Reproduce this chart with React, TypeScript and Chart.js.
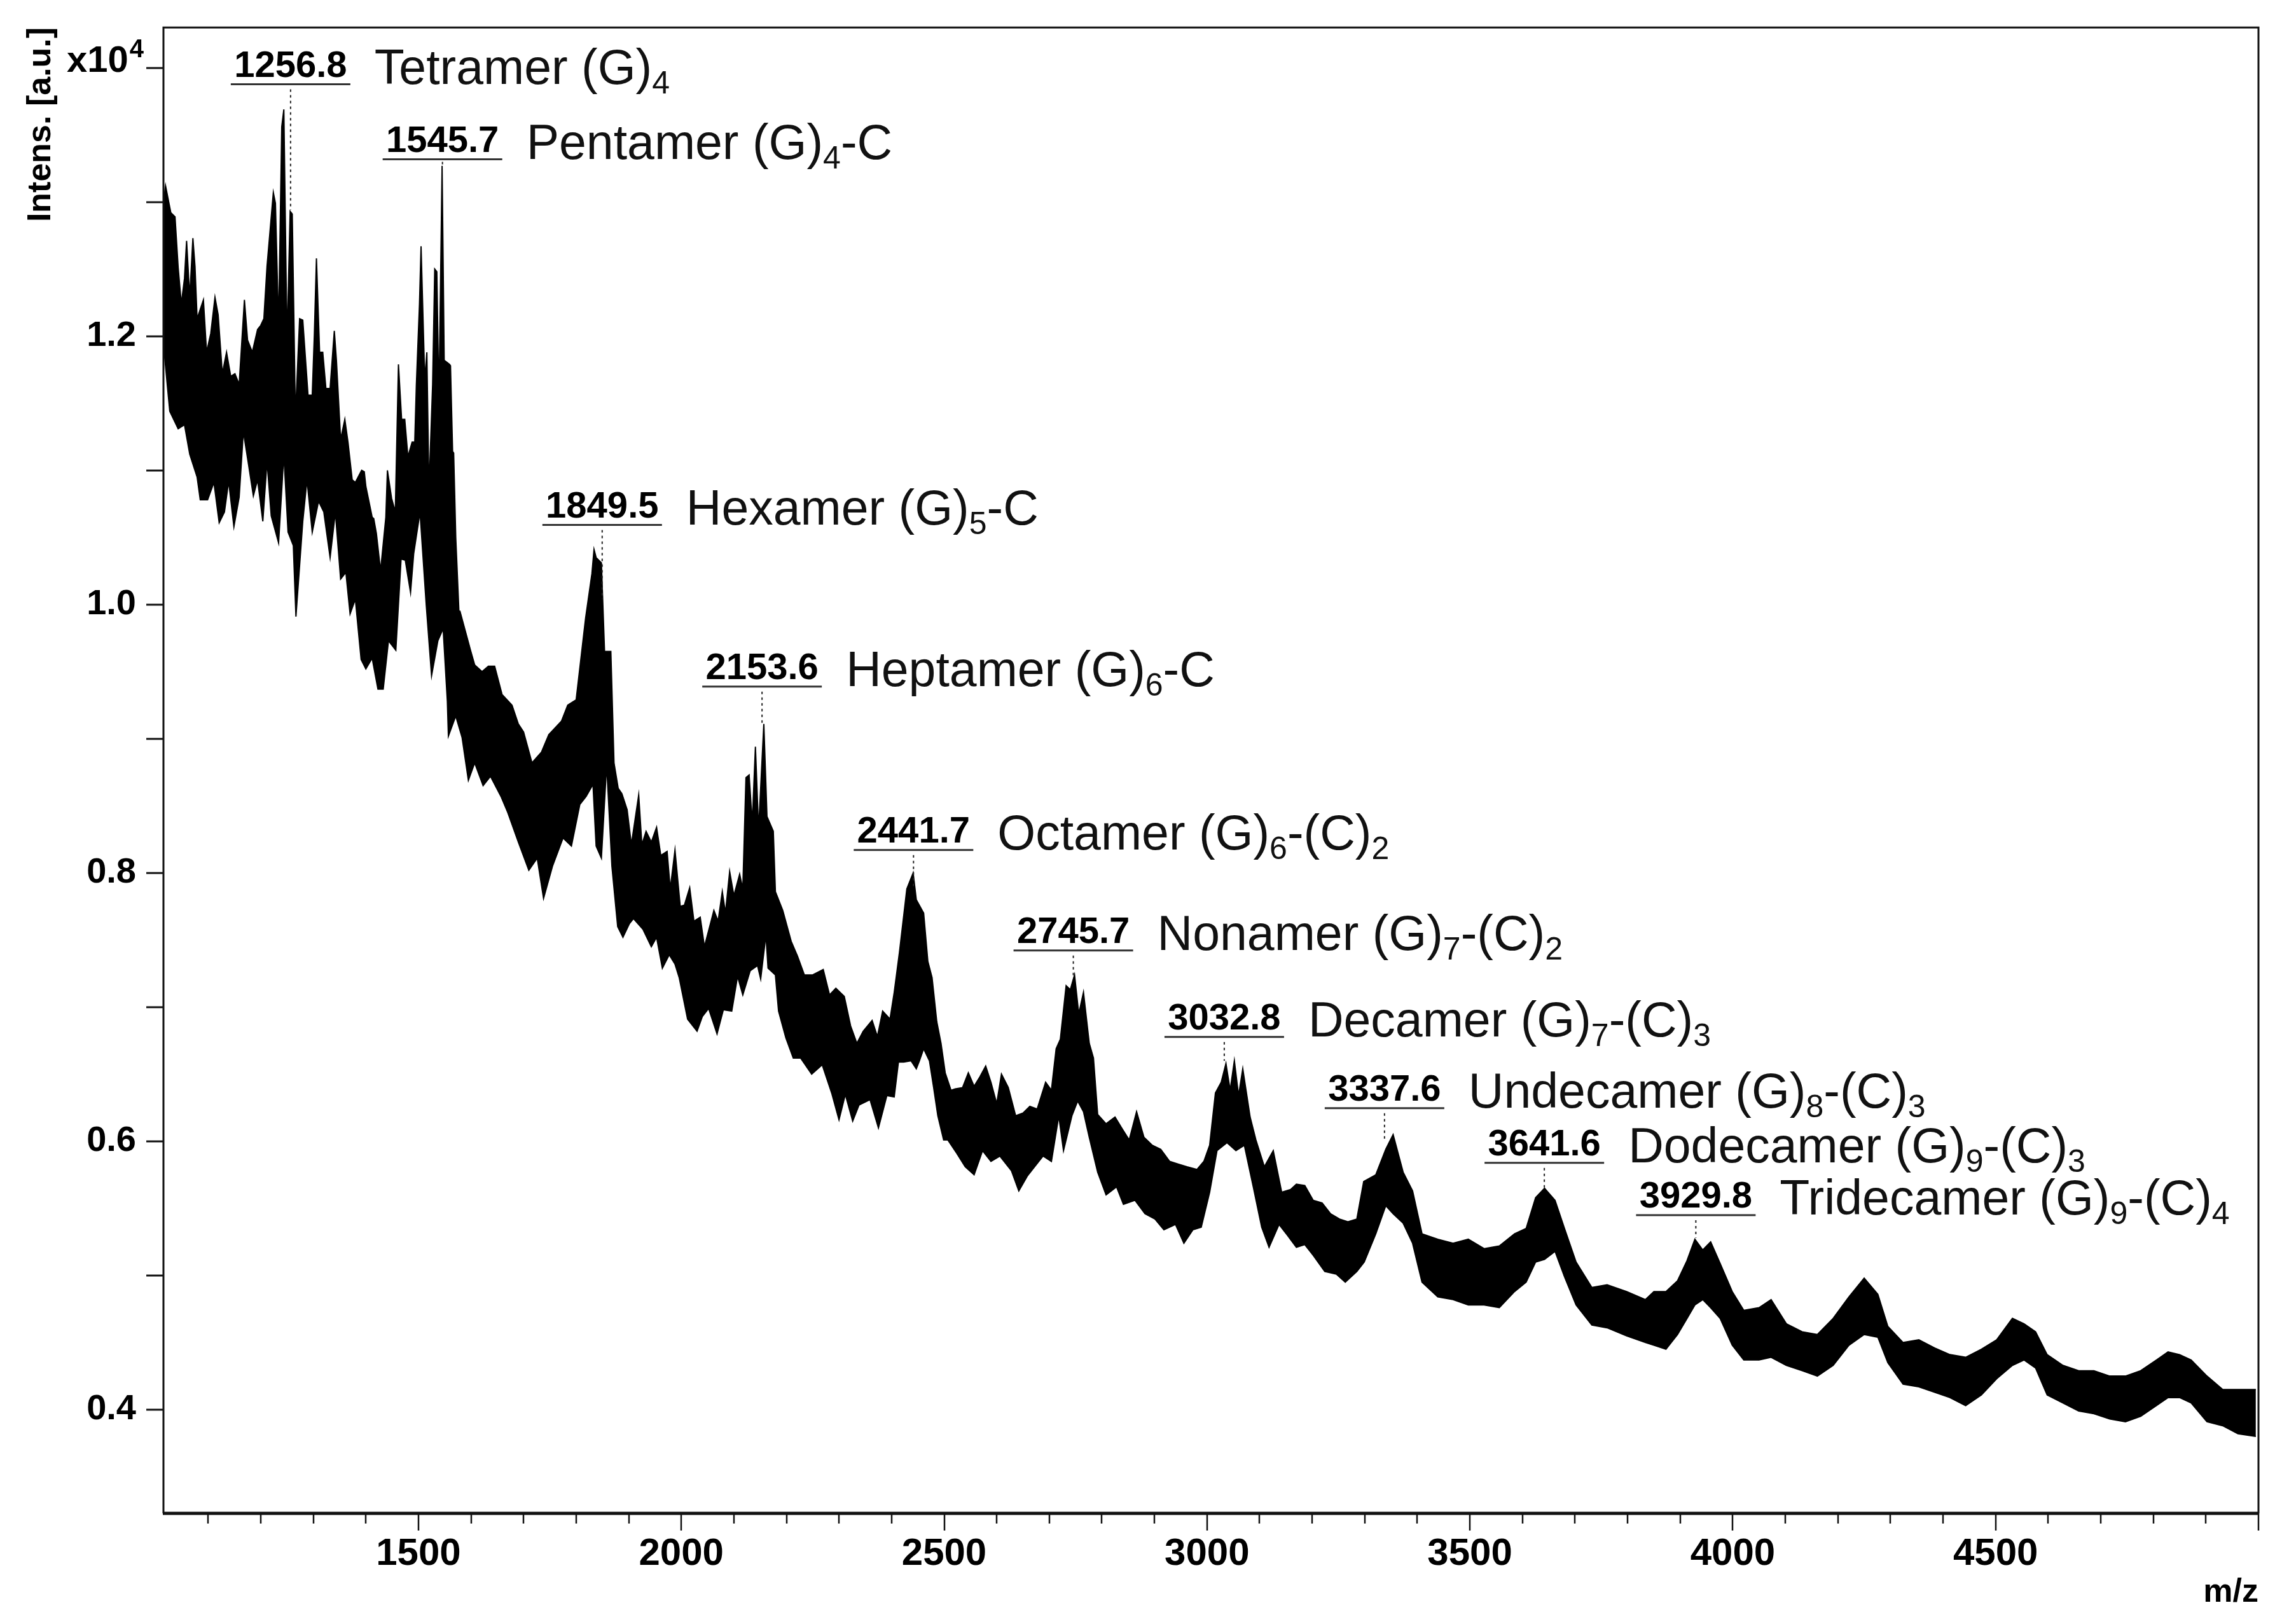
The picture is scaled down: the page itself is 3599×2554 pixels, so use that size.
import { useEffect, useRef } from "react"
import { Chart, registerables } from "chart.js"

Chart.register(...registerables)

// upper edge of the noisy trace: [m/z, intensity x10^4 a.u.]
const upperEdge: [number, number][] = [
  [1015, 1.3], [1019, 1.312], [1029, 1.292], [1037, 1.289], [1043, 1.251], [1049, 1.224], [1055, 1.243], [1059, 1.271],
  [1065, 1.229], [1071, 1.273], [1075, 1.252], [1079, 1.213], [1091, 1.227], [1097, 1.188], [1105, 1.202], [1113, 1.229],
  [1119, 1.216], [1127, 1.172], [1135, 1.188], [1143, 1.17], [1151, 1.172], [1159, 1.164], [1169, 1.227], [1175, 1.197],
  [1184, 1.188], [1194, 1.205], [1200, 1.208], [1206, 1.213], [1212, 1.252], [1224, 1.307], [1228, 1.299], [1234, 1.206],
  [1240, 1.356], [1244, 1.369], [1250, 1.194], [1256, 1.293], [1260, 1.291], [1266, 1.14], [1274, 1.213], [1280, 1.212],
  [1290, 1.156], [1298, 1.156], [1302, 1.201], [1306, 1.258], [1312, 1.188], [1318, 1.188], [1324, 1.161], [1332, 1.161],
  [1340, 1.204], [1344, 1.182], [1352, 1.123], [1360, 1.138], [1366, 1.121], [1374, 1.093], [1380, 1.091], [1392, 1.1],
  [1397, 1.099], [1400, 1.088], [1412, 1.065], [1415, 1.064], [1420, 1.053], [1428, 1.025], [1438, 1.065], [1441, 1.1],
  [1449, 1.079], [1456, 1.069], [1462, 1.179], [1468, 1.138], [1474, 1.138], [1480, 1.11], [1488, 1.121], [1493, 1.121],
  [1496, 1.163], [1502, 1.224], [1505, 1.267], [1512, 1.167], [1516, 1.188], [1520, 1.085], [1527, 1.164], [1531, 1.25],
  [1535, 1.248], [1539, 1.15], [1545, 1.327], [1549, 1.182], [1559, 1.179], [1561, 1.178], [1565, 1.114], [1567, 1.113],
  [1571, 1.05], [1577, 0.995], [1579, 0.995], [1599, 0.966], [1607, 0.955], [1621, 0.95], [1633, 0.954], [1645, 0.954],
  [1659, 0.933], [1678, 0.925], [1690, 0.911], [1700, 0.905], [1716, 0.882], [1734, 0.89], [1748, 0.903], [1772, 0.913],
  [1784, 0.925], [1800, 0.929], [1818, 0.99], [1830, 1.023], [1834, 1.041], [1838, 1.035], [1848, 1.031], [1854, 0.965],
  [1866, 0.965], [1872, 0.882], [1880, 0.863], [1887, 0.859], [1897, 0.847], [1905, 0.821], [1919, 0.858], [1925, 0.821],
  [1933, 0.831], [1943, 0.823], [1953, 0.834], [1961, 0.813], [1973, 0.816], [1979, 0.788], [1988, 0.817], [1998, 0.775],
  [2006, 0.776], [2016, 0.789], [2024, 0.764], [2036, 0.767], [2044, 0.745], [2054, 0.76], [2062, 0.772], [2070, 0.764],
  [2078, 0.786], [2084, 0.77], [2092, 0.801], [2100, 0.783], [2111, 0.799], [2117, 0.788], [2123, 0.871], [2129, 0.873],
  [2135, 0.837], [2141, 0.894], [2147, 0.832], [2157, 0.911], [2163, 0.842], [2175, 0.831], [2179, 0.786], [2193, 0.772],
  [2209, 0.749], [2221, 0.738], [2234, 0.724], [2250, 0.724], [2270, 0.728], [2282, 0.709], [2294, 0.714], [2310, 0.708],
  [2322, 0.686], [2334, 0.673], [2346, 0.682], [2363, 0.69], [2373, 0.678], [2383, 0.697], [2397, 0.691], [2405, 0.711],
  [2415, 0.741], [2429, 0.788], [2441, 0.8], [2447, 0.78], [2461, 0.77], [2469, 0.734], [2477, 0.722], [2486, 0.689],
  [2494, 0.673], [2502, 0.651], [2513, 0.638], [2521, 0.639], [2535, 0.64], [2546, 0.651], [2557, 0.641], [2568, 0.648],
  [2579, 0.656], [2589, 0.644], [2600, 0.628], [2609, 0.65], [2622, 0.64], [2636, 0.619], [2650, 0.621], [2663, 0.626],
  [2677, 0.624], [2693, 0.644], [2704, 0.638], [2713, 0.669], [2721, 0.676], [2732, 0.716], [2740, 0.713], [2748, 0.724],
  [2756, 0.695], [2765, 0.711], [2776, 0.673], [2784, 0.662], [2792, 0.62], [2808, 0.613], [2825, 0.618], [2839, 0.609],
  [2852, 0.601], [2866, 0.622], [2880, 0.603], [2896, 0.597], [2912, 0.594], [2929, 0.585], [2945, 0.583], [2962, 0.581],
  [2981, 0.579], [2994, 0.585], [3005, 0.597], [3016, 0.636], [3027, 0.644], [3036, 0.658], [3044, 0.638], [3052, 0.66],
  [3060, 0.634], [3068, 0.654], [3082, 0.618], [3093, 0.601], [3109, 0.581], [3126, 0.593], [3142, 0.562], [3159, 0.564],
  [3170, 0.568], [3186, 0.567], [3202, 0.556], [3219, 0.554], [3235, 0.546], [3252, 0.542], [3268, 0.54], [3285, 0.542],
  [3298, 0.57], [3321, 0.575], [3340, 0.594], [3354, 0.605], [3373, 0.577], [3391, 0.563], [3409, 0.531], [3439, 0.527],
  [3468, 0.524], [3497, 0.527], [3527, 0.52], [3556, 0.522], [3585, 0.531], [3607, 0.535], [3625, 0.558], [3642, 0.565],
  [3662, 0.556], [3680, 0.535], [3702, 0.51], [3732, 0.491], [3761, 0.493], [3798, 0.488], [3834, 0.482], [3850, 0.488],
  [3873, 0.488], [3895, 0.496], [3913, 0.511], [3928, 0.527], [3943, 0.519], [3958, 0.525], [3976, 0.509], [3999, 0.488],
  [4021, 0.474], [4050, 0.476], [4073, 0.482], [4102, 0.464], [4132, 0.458], [4161, 0.456], [4191, 0.468], [4221, 0.484],
  [4250, 0.498], [4276, 0.486], [4295, 0.462], [4324, 0.45], [4354, 0.452], [4384, 0.446], [4413, 0.441], [4443, 0.439],
  [4473, 0.445], [4502, 0.452], [4532, 0.468], [4554, 0.464], [4576, 0.458], [4598, 0.441], [4628, 0.433], [4658, 0.429],
  [4687, 0.429], [4717, 0.425], [4747, 0.425], [4776, 0.429], [4806, 0.437], [4828, 0.443], [4850, 0.441], [4872, 0.437],
  [4902, 0.425], [4932, 0.415], [4961, 0.415], [4995, 0.415],
]

// lower edge of the noisy trace
const lowerEdge: [number, number][] = [
  [1015, 1.194], [1027, 1.144], [1043, 1.131], [1055, 1.134], [1065, 1.112], [1079, 1.095], [1085, 1.078], [1099, 1.078],
  [1111, 1.091], [1121, 1.061], [1131, 1.069], [1139, 1.092], [1149, 1.058], [1159, 1.08], [1167, 1.129], [1177, 1.104],
  [1186, 1.081], [1194, 1.093], [1204, 1.062], [1212, 1.107], [1220, 1.066], [1234, 1.046], [1244, 1.112], [1252, 1.054],
  [1262, 1.044], [1267, 0.991], [1280, 1.062], [1288, 1.093], [1298, 1.054], [1310, 1.077], [1320, 1.069], [1332, 1.035],
  [1342, 1.069], [1352, 1.019], [1362, 1.024], [1370, 0.993], [1380, 1.004], [1391, 0.959], [1400, 0.952], [1412, 0.96],
  [1423, 0.937], [1433, 0.937], [1443, 0.973], [1457, 0.966], [1467, 1.034], [1475, 1.033], [1485, 1.009], [1491, 1.038],
  [1503, 1.069], [1515, 0.999], [1525, 0.947], [1537, 0.973], [1547, 0.982], [1555, 0.928], [1557, 0.902], [1571, 0.917],
  [1583, 0.901], [1595, 0.869], [1607, 0.882], [1623, 0.865], [1637, 0.872], [1657, 0.857], [1670, 0.845], [1690, 0.823],
  [1710, 0.802], [1726, 0.811], [1738, 0.781], [1755, 0.805], [1775, 0.826], [1791, 0.82], [1807, 0.851], [1819, 0.857],
  [1832, 0.866], [1838, 0.82], [1848, 0.811], [1858, 0.881], [1868, 0.805], [1879, 0.76], [1889, 0.752], [1901, 0.762],
  [1909, 0.766], [1927, 0.758], [1943, 0.745], [1953, 0.752], [1964, 0.729], [1977, 0.739], [1988, 0.732], [1996, 0.722],
  [2012, 0.691], [2030, 0.682], [2040, 0.693], [2052, 0.699], [2068, 0.68], [2080, 0.698], [2096, 0.697], [2107, 0.723],
  [2117, 0.709], [2131, 0.727], [2145, 0.731], [2151, 0.721], [2161, 0.754], [2165, 0.729], [2179, 0.724], [2185, 0.697],
  [2199, 0.677], [2213, 0.662], [2227, 0.662], [2248, 0.65], [2268, 0.657], [2286, 0.636], [2300, 0.616], [2312, 0.635],
  [2326, 0.615], [2338, 0.627], [2359, 0.631], [2375, 0.61], [2391, 0.634], [2405, 0.633], [2413, 0.659], [2423, 0.659],
  [2437, 0.66], [2447, 0.654], [2453, 0.66], [2461, 0.669], [2472, 0.66], [2480, 0.64], [2488, 0.619], [2499, 0.601],
  [2507, 0.601], [2524, 0.591], [2540, 0.581], [2557, 0.575], [2573, 0.593], [2589, 0.585], [2606, 0.589], [2628, 0.578],
  [2642, 0.563], [2658, 0.574], [2672, 0.581], [2688, 0.589], [2704, 0.585], [2718, 0.619], [2727, 0.593], [2743, 0.619],
  [2754, 0.63], [2765, 0.622], [2776, 0.603], [2792, 0.577], [2808, 0.56], [2828, 0.566], [2841, 0.553], [2863, 0.556],
  [2882, 0.546], [2901, 0.542], [2918, 0.534], [2940, 0.538], [2956, 0.524], [2973, 0.534], [2989, 0.536], [3005, 0.562],
  [3019, 0.593], [3038, 0.599], [3055, 0.593], [3071, 0.597], [3088, 0.566], [3104, 0.536], [3118, 0.521], [3137, 0.538],
  [3153, 0.53], [3170, 0.521], [3186, 0.523], [3202, 0.515], [3224, 0.503], [3246, 0.501], [3263, 0.495], [3285, 0.503],
  [3299, 0.51], [3321, 0.531], [3340, 0.552], [3354, 0.546], [3373, 0.539], [3391, 0.524], [3409, 0.495], [3439, 0.484],
  [3468, 0.482], [3497, 0.478], [3527, 0.478], [3556, 0.476], [3585, 0.488], [3607, 0.495], [3625, 0.51], [3642, 0.512],
  [3662, 0.518], [3680, 0.499], [3702, 0.478], [3732, 0.463], [3761, 0.461], [3798, 0.455], [3834, 0.45], [3850, 0.448],
  [3873, 0.445], [3895, 0.456], [3913, 0.468], [3928, 0.478], [3943, 0.482], [3958, 0.476], [3976, 0.468], [3999, 0.448],
  [4021, 0.437], [4050, 0.437], [4073, 0.439], [4102, 0.433], [4132, 0.429], [4161, 0.425], [4191, 0.433], [4221, 0.448],
  [4250, 0.456], [4276, 0.454], [4295, 0.435], [4324, 0.419], [4354, 0.417], [4384, 0.413], [4413, 0.409], [4443, 0.403],
  [4473, 0.411], [4502, 0.423], [4532, 0.433], [4554, 0.437], [4576, 0.431], [4598, 0.411], [4628, 0.405], [4658, 0.399],
  [4687, 0.397], [4717, 0.393], [4747, 0.391], [4776, 0.395], [4806, 0.403], [4828, 0.409], [4850, 0.409], [4872, 0.405],
  [4902, 0.391], [4932, 0.388], [4961, 0.382], [4995, 0.38],
]

// annotated peaks
const peakMz = [1256.8, 1545.7, 1849.5, 2153.6, 2441.7, 2745.7, 3032.8, 3337.6, 3641.6, 3929.8]
const peakLabels = ["1256.8", "1545.7", "1849.5", "2153.6", "2441.7", "2745.7", "3032.8", "3337.6", "3641.6", "3929.8"]
const peakNames = [
  "Tetramer (G)_4",
  "Pentamer (G)_4-C",
  "Hexamer (G)_5-C",
  "Heptamer (G)_6-C",
  "Octamer (G)_6-(C)_2",
  "Nonamer (G)_7-(C)_2",
  "Decamer (G)_7-(C)_3",
  "Undecamer (G)_8-(C)_3",
  "Dodecamer (G)_9-(C)_3",
  "Tridecamer (G)_9-(C)_4",
]
// height of each label's underline and where its dotted marker stops
const labelLevels = [1.3877, 1.3318, 1.0593, 0.9389, 0.8171, 0.7422, 0.6777, 0.6247, 0.5839, 0.545]
const markerEnds = [1.294, 1.33, 1.004, 0.911, 0.79, 0.722, 0.66, 0.6, 0.565, 0.528]

// axis ticks
const xTickValues = [
  1100, 1200, 1300, 1400, 1500, 1600, 1700, 1800, 1900, 2000, 2100, 2200, 2300, 2400, 2500, 2600,
  2700, 2800, 2900, 3000, 3100, 3200, 3300, 3400, 3500, 3600, 3700, 3800, 3900, 4000, 4100, 4200,
  4300, 4400, 4500, 4600, 4700, 4800, 4900, 5000,
]
const xTickLabels = [1500, 2000, 2500, 3000, 3500, 4000, 4500]
const yTickValues = [0.4, 0.5, 0.6, 0.7, 0.8, 0.9, 1.0, 1.1, 1.2, 1.3, 1.4]
const yTickLabels = ["0.4", "", "0.6", "", "0.8", "", "1.0", "", "1.2", "", ""]

const FONT = "'Liberation Sans', Arial, sans-serif"

function drawRich(ctx: CanvasRenderingContext2D, text: string, x: number, y: number) {
  const parts = text.split(/_(\d)/)
  let cx = x
  ctx.textAlign = "left"
  parts.forEach((part, i) => {
    if (!part) return
    if (i % 2 === 1) {
      ctx.font = `50px ${FONT}`
      ctx.fillText(part, cx, y + 15)
    } else {
      ctx.font = `77px ${FONT}`
      ctx.fillText(part, cx, y)
    }
    cx += ctx.measureText(part).width
  })
}

const spectrumDecor = {
  id: "spectrumDecor",
  afterDatasetsDraw(chart: Chart) {
    const { ctx, chartArea, scales } = chart
    const x = scales.x
    const y = scales.y
    ctx.save()

    // frame
    ctx.strokeStyle = "#111"
    ctx.lineWidth = 3
    ctx.beginPath()
    ctx.moveTo(chartArea.left, chartArea.bottom)
    ctx.lineTo(chartArea.left, chartArea.top)
    ctx.lineTo(chartArea.right, chartArea.top)
    ctx.lineTo(chartArea.right, chartArea.bottom)
    ctx.stroke()
    ctx.lineWidth = 5
    ctx.beginPath()
    ctx.moveTo(chartArea.left - 1, chartArea.bottom)
    ctx.lineTo(chartArea.right + 1, chartArea.bottom)
    ctx.stroke()

    // tick marks
    ctx.lineWidth = 3
    yTickValues.forEach((v) => {
      const py = Math.round(y.getPixelForValue(v))
      ctx.beginPath()
      ctx.moveTo(chartArea.left - 27, py)
      ctx.lineTo(chartArea.left, py)
      ctx.stroke()
    })
    ctx.lineWidth = 2.5
    xTickValues.forEach((v) => {
      const px = Math.round(x.getPixelForValue(v))
      const len = v % 500 === 0 ? 27 : 16
      ctx.beginPath()
      ctx.moveTo(px, chartArea.bottom)
      ctx.lineTo(px, chartArea.bottom + len)
      ctx.stroke()
    })

    // axis titles
    ctx.fillStyle = "#000"
    ctx.font = `bold 52px ${FONT}`
    ctx.textAlign = "right"
    ctx.textBaseline = "alphabetic"
    ctx.fillText("m/z", chartArea.right, 2519)
    ctx.save()
    ctx.translate(79, 196)
    ctx.rotate(-Math.PI / 2)
    ctx.textAlign = "center"
    ctx.fillText("Intens. [a.u.]", 0, 0)
    ctx.restore()
    const topTick = y.getPixelForValue(1.4)
    ctx.font = `bold 40px ${FONT}`
    ctx.textAlign = "right"
    ctx.fillText("4", 226, topTick - 17)
    const supW = ctx.measureText("4").width
    ctx.font = `bold 58px ${FONT}`
    ctx.fillText("x10", 226 - supW - 2, topTick + 6)

    // peak annotations
    peakMz.forEach((mz, i) => {
      const px = x.getPixelForValue(mz)
      const ly = y.getPixelForValue(labelLevels[i])
      const ey = y.getPixelForValue(markerEnds[i])
      ctx.strokeStyle = "#222"
      ctx.lineWidth = 2
      ctx.setLineDash([4, 5])
      ctx.beginPath()
      ctx.moveTo(px, ly + 8)
      ctx.lineTo(px, ey)
      ctx.stroke()
      ctx.setLineDash([])
      ctx.lineWidth = 3
      ctx.strokeStyle = "#333"
      ctx.beginPath()
      ctx.moveTo(px - 94, ly)
      ctx.lineTo(px + 94, ly)
      ctx.stroke()
      ctx.fillStyle = "#000"
      ctx.font = `bold 58px ${FONT}`
      ctx.textAlign = "center"
      ctx.fillText(peakLabels[i], px, ly - 12)
      ctx.fillStyle = "#111"
      drawRich(ctx, peakNames[i], px + 132, ly - 1)
    })
    ctx.restore()
  },
}

export default function App() {
  const chartRef = useRef<HTMLCanvasElement>(null)
  const chartInstance = useRef<Chart | null>(null)

  useEffect(() => {
    document.body.style.margin = "0"
    if (!chartRef.current) return
    if (chartInstance.current) chartInstance.current.destroy()
    const ctx = chartRef.current.getContext("2d")
    if (!ctx) return

    const upper = upperEdge.map(([m, v]) => ({ x: m, y: v }))
    const lower = lowerEdge.map(([m, v]) => ({ x: m, y: v }))

    chartInstance.current = new Chart(ctx, {
      type: "line",
      data: {
        datasets: [
          {
            data: upper,
            borderColor: "#000",
            borderWidth: 2,
            pointRadius: 0,
            tension: 0,
            fill: false,
          },
          {
            data: lower,
            borderColor: "#000",
            borderWidth: 2,
            backgroundColor: "#000",
            pointRadius: 0,
            tension: 0,
            fill: "-1",
          },
        ],
      },
      options: {
        animation: false,
        responsive: true,
        maintainAspectRatio: false,
        events: [],
        layout: { autoPadding: false, padding: { top: 43, right: 48, left: 0, bottom: 0 } },
        plugins: {
          legend: { display: false },
          tooltip: { enabled: false },
        },
        scales: {
          x: {
            type: "linear",
            min: 1015,
            max: 5000,
            afterBuildTicks: (scale: any) => {
              scale.ticks = xTickValues.map((v) => ({ value: v }))
            },
            afterFit: (scale: any) => {
              scale.height = 174
            },
            grid: { display: false, drawTicks: false },
            border: { display: false },
            ticks: {
              autoSkip: false,
              maxRotation: 0,
              padding: 28,
              color: "#000",
              font: { family: FONT, size: 60, weight: "bold" },
              callback: (v: any) => (xTickLabels.includes(Number(v)) ? String(v) : ""),
            },
          },
          y: {
            type: "linear",
            min: 0.3227,
            max: 1.43,
            afterBuildTicks: (scale: any) => {
              scale.ticks = yTickValues.map((v) => ({ value: v }))
            },
            afterFit: (scale: any) => {
              scale.width = 257
            },
            grid: { display: false, drawTicks: false },
            border: { display: false },
            ticks: {
              autoSkip: false,
              padding: 43,
              color: "#000",
              // tiny line height keeps the labels from pushing the plot area down
              font: { family: FONT, size: 56, weight: "bold", lineHeight: 0.01 },
              callback: (_v: any, i: number) => yTickLabels[i] ?? "",
            },
          },
        },
      },
      plugins: [spectrumDecor],
    })

    return () => {
      if (chartInstance.current) {
        chartInstance.current.destroy()
        chartInstance.current = null
      }
    }
  }, [])

  return (
    <div style={{ position: "relative", width: 3599, height: 2554, background: "#fff" }}>
      <canvas ref={chartRef} />
    </div>
  )
}
